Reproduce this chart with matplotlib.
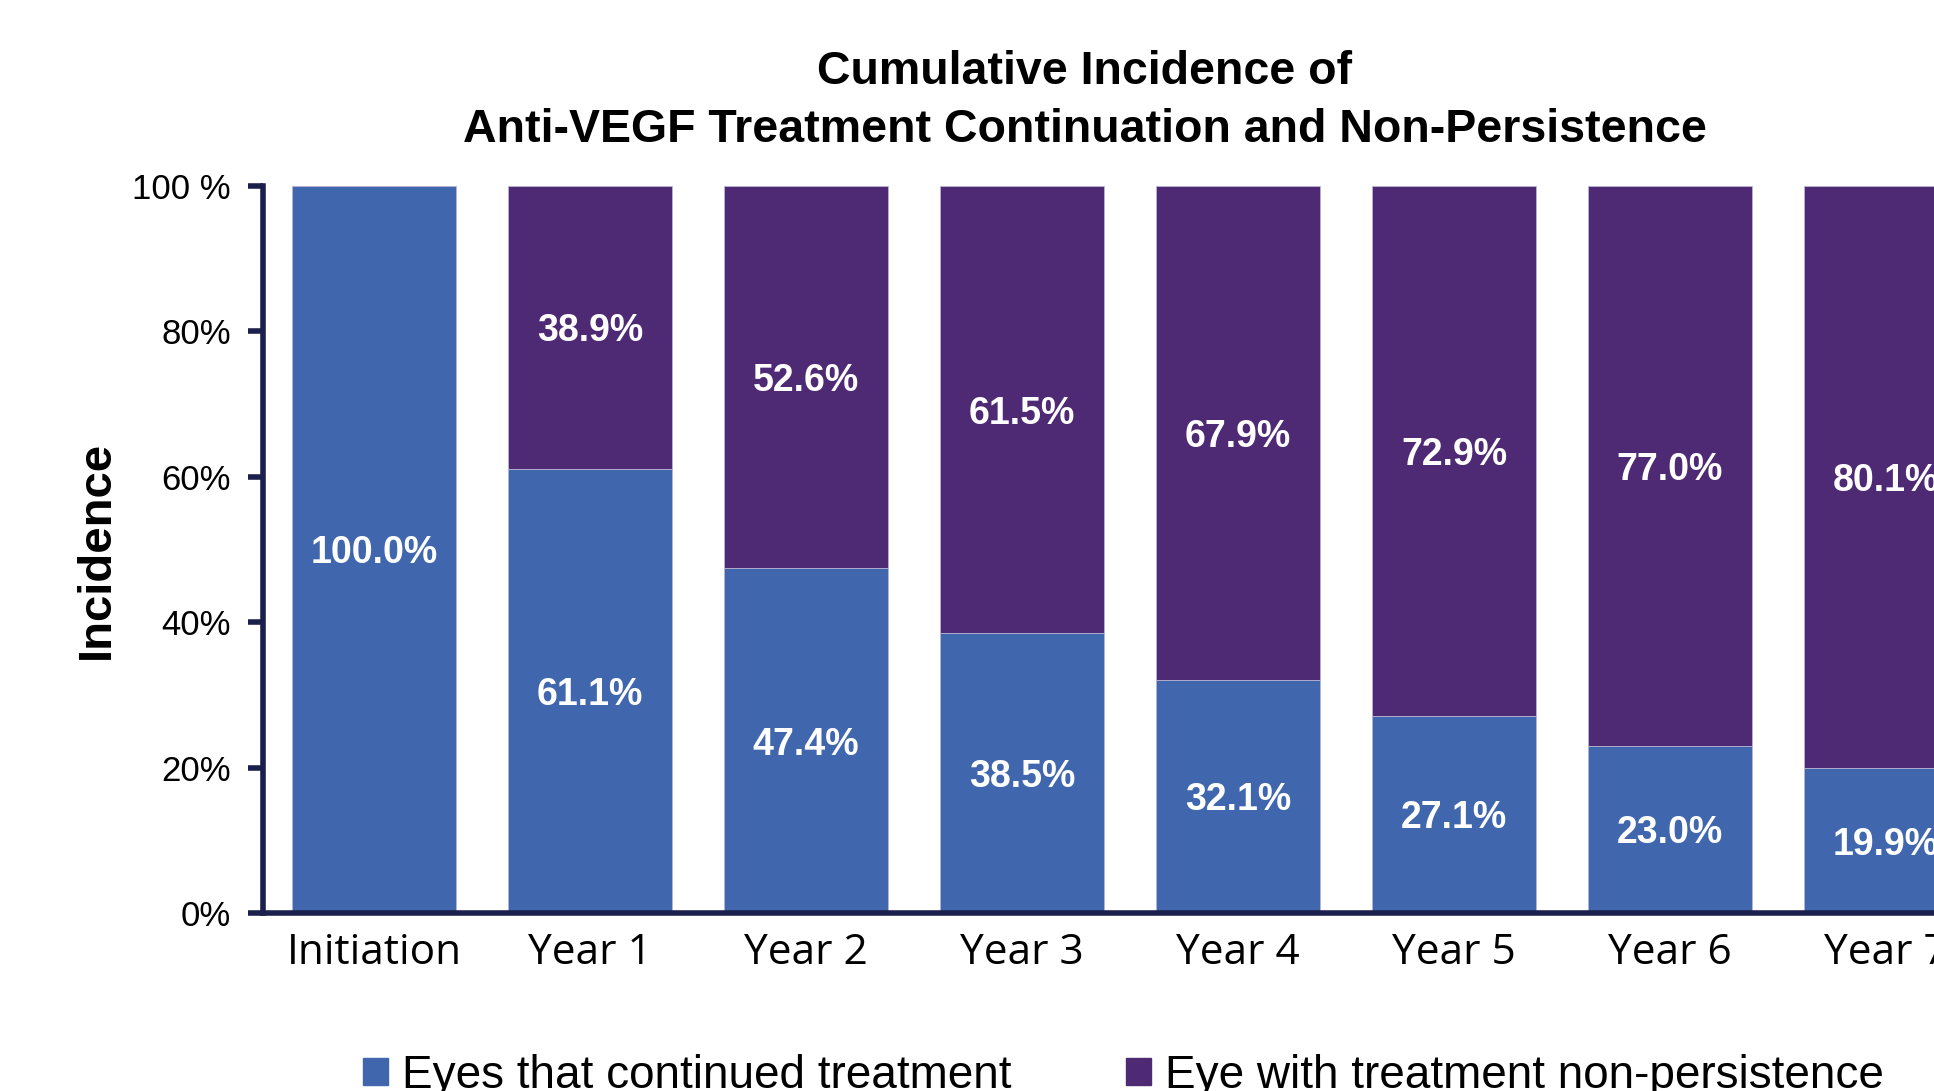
import matplotlib
matplotlib.use("Agg")
import matplotlib.pyplot as plt
from matplotlib.patches import Patch

categories = ["Initiation", "Year 1", "Year 2", "Year 3", "Year 4", "Year 5", "Year 6", "Year 7"]
continued = [100.0, 61.1, 47.4, 38.5, 32.1, 27.1, 23.0, 19.9]
non_persist = [0.0, 38.9, 52.6, 61.5, 67.9, 72.9, 77.0, 80.1]
ytick_vals = [0, 20, 40, 60, 80, 100]
ytick_labels = ["0%", "20%", "40%", "60%", "80%", "100 %"]

BLUE = "#4066AE"
PURPLE = "#4E2974"
AXIS = "#1B1F4B"
SANS = "Liberation Sans"

fig = plt.figure(figsize=(19.34, 10.91), dpi=100)
ax = fig.add_axes([0.136, 0.1632, 0.8966, 0.6663])

x = list(range(len(categories)))
ax.bar(x, continued, width=0.76, color=BLUE, edgecolor="#b9b4d6", linewidth=0.6)
ax.bar(x, non_persist, width=0.76, bottom=continued, color=PURPLE, edgecolor="#b9b4d6", linewidth=0.6)

for i in x:
    ax.text(i, continued[i] / 2, f"{continued[i]:.1f}%", ha="center", va="center_baseline",
            color="white", fontsize=27, fontweight="bold", family=SANS)
    if non_persist[i] > 0:
        ax.text(i, continued[i] + non_persist[i] / 2, f"{non_persist[i]:.1f}%", ha="center",
                va="center_baseline", color="white", fontsize=27, fontweight="bold", family=SANS)

ax.set_xlim(-0.514, 7.514)
ax.set_ylim(0, 100)
ax.set_yticks(ytick_vals)
ax.set_yticklabels(ytick_labels, family=SANS, fontsize=25)
ax.set_xticks(x)
ax.set_xticklabels(categories, family="Open Sans", fontsize=30.5)
ax.tick_params(axis="y", direction="out", length=11, width=4, color=AXIS, pad=12)
ax.tick_params(axis="x", length=0, pad=14)
for s in ["top", "right"]:
    ax.spines[s].set_visible(False)
for s in ["left", "bottom"]:
    ax.spines[s].set_color(AXIS)
    ax.spines[s].set_linewidth(4)

ax.set_ylabel("Incidence", family=SANS, fontweight="bold", fontsize=34, labelpad=10)

fig.text(0.561, 0.934, "Cumulative Incidence of", ha="center", va="center",
         family=SANS, fontweight="bold", fontsize=33.5)
fig.text(0.561, 0.881, "Anti-VEGF Treatment Continuation and Non-Persistence", ha="center", va="center",
         family=SANS, fontweight="bold", fontsize=33.5)

handles = [Patch(color=BLUE, label="Eyes that continued treatment"),
           Patch(color=PURPLE, label="Eye with treatment non-persistence")]
fig.legend(handles=handles, loc="center", bbox_to_anchor=(0.581, 0.014), ncol=2, frameon=False,
           prop={"family": SANS, "size": 33}, handlelength=0.55, handleheight=0.55,
           columnspacing=2.5, handletextpad=0.3)

fig.savefig("out.png", dpi=100)
